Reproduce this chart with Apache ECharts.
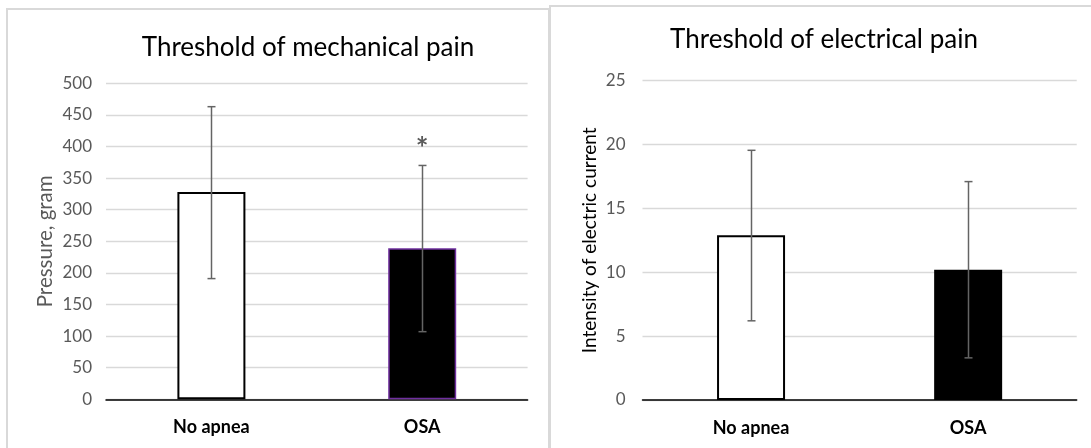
<!DOCTYPE html>
<html>
<head>
<meta charset="utf-8">
<script src="https://cdn.jsdelivr.net/npm/echarts@6/dist/echarts.min.js"></script>
<style>
html,body{margin:0;padding:0;background:#fff;}
#chart{width:1091px;height:448px;}
</style>
</head>
<body>
<div id="chart"></div>
<script>
// ---- data ----
const categories = ['No apnea', 'OSA'];
// Mechanical pain threshold (pressure, gram)
const mechMeans = [328, 239];
const mechErrLow = [191, 107];
const mechErrHigh = [463, 370];
const mechSignificance = [null, 408];   // "*" marker above OSA
const mechTicks = { min: 0, max: 500, interval: 50 };
// Electrical pain threshold (intensity of electric current)
const elecMeans = [12.9, 10.2];
const elecErrLow = [6.2, 3.3];
const elecErrHigh = [19.55, 17.1];
const elecTicks = { min: 0, max: 25, interval: 5 };

const titles = ['Threshold of mechanical pain', 'Threshold of electrical pain'];
const yNames = ['Pressure, gram', 'Intensity of electric current'];

// ---- styles ----
const FONT = 'Lato';
const mechBarStyles = [
  { color: '#ffffff', borderColor: '#000000', borderWidth: 2 },
  { color: '#000000', borderColor: '#7030A0', borderWidth: 1.5 }
];
const elecBarStyles = [
  { color: '#ffffff', borderColor: '#000000', borderWidth: 2 },
  { color: '#000000', borderColor: '#000000', borderWidth: 2 }
];

function barData(values, styles) {
  return values.map((v, i) => ({ value: v, itemStyle: styles[i] }));
}
function errData(low, high) {
  return low.map((l, i) => [i, l, high[i]]);
}
function errRender(params, api) {
  const lo = api.coord([api.value(0), api.value(1)]);
  const hi = api.coord([api.value(0), api.value(2)]);
  const x = Math.round(lo[0]) + 0.5;
  const cap = 4;
  const style = { stroke: '#646464', lineWidth: 1.5 };
  return {
    type: 'group',
    children: [
      { type: 'line', shape: { x1: x, y1: lo[1], x2: x, y2: hi[1] }, style },
      { type: 'line', shape: { x1: x - cap, y1: lo[1], x2: x + cap, y2: lo[1] }, style },
      { type: 'line', shape: { x1: x - cap, y1: hi[1], x2: x + cap, y2: hi[1] }, style }
    ]
  };
}
function starRender(params, api) {
  const p = api.coord([api.value(0), api.value(1)]);
  return {
    type: 'text',
    x: p[0], y: p[1] + 8,
    style: { text: '*', fill: '#595959', font: 'bold 30px ' + FONT, align: 'center', verticalAlign: 'middle' }
  };
}

function yAxis(gridIndex, ticks, name, nameColor, nameSize, nameGap, labelMargin) {
  return {
    type: 'value', gridIndex, min: ticks.min, max: ticks.max, interval: ticks.interval,
    name, nameLocation: 'middle', nameGap, nameRotate: 90,
    nameTextStyle: { color: nameColor, fontSize: nameSize, fontFamily: FONT },
    axisLine: { show: false }, axisTick: { show: false },
    axisLabel: { color: '#595959', fontSize: 17, fontFamily: FONT, margin: labelMargin },
    splitLine: { lineStyle: { color: '#d9d9d9', width: 1.3 } }
  };
}
function xAxis(gridIndex) {
  return {
    type: 'category', gridIndex, data: categories,
    axisLine: { lineStyle: { color: '#000000', width: 1.5 } },
    axisTick: { show: false },
    axisLabel: { color: '#000000', fontSize: 18, fontWeight: 'bold', fontFamily: FONT, margin: 19 }
  };
}

const chart = echarts.init(document.getElementById('chart'), null, { renderer: 'canvas' });
chart.setOption({
  animation: false,
  backgroundColor: '#ffffff',
  graphic: [
    { type: 'rect', shape: { x: 7, y: 9, width: 542, height: 520 }, style: { fill: 'none', stroke: '#d9d9d9', lineWidth: 2 }, z: -10 },
    { type: 'rect', shape: { x: 550, y: 6, width: 600, height: 520 }, style: { fill: 'none', stroke: '#d9d9d9', lineWidth: 2 }, z: -10 }
  ],
  title: [
    { text: titles[0], left: 303, top: 30, textAlign: 'center',
      textStyle: { fontSize: 26, fontWeight: 'normal', color: '#000', fontFamily: FONT } },
    { text: titles[1], left: 819, top: 22, textAlign: 'center',
      textStyle: { fontSize: 26, fontWeight: 'normal', color: '#000', fontFamily: FONT } }
  ],
  grid: [
    { left: 106, right: 1091 - 527.6, top: 83.3, bottom: 448 - 399.3 },
    { left: 642.5, right: 1091 - 1076.7, top: 80.7, bottom: 448 - 400 }
  ],
  xAxis: [xAxis(0), xAxis(1)],
  yAxis: [
    yAxis(0, mechTicks, yNames[0], '#595959', 20.5, 50, 14),
    yAxis(1, elecTicks, yNames[1], '#000000', 19, 43, 17)
  ],
  series: [
    { type: 'bar', xAxisIndex: 0, yAxisIndex: 0, barWidth: 68, data: barData(mechMeans, mechBarStyles) },
    { type: 'custom', xAxisIndex: 0, yAxisIndex: 0, renderItem: errRender, data: errData(mechErrLow, mechErrHigh), z: 5 },
    { type: 'custom', xAxisIndex: 0, yAxisIndex: 0, renderItem: starRender,
      data: mechSignificance.map((v, i) => v == null ? null : [i, v]).filter(d => d), z: 5 },
    { type: 'bar', xAxisIndex: 1, yAxisIndex: 1, barWidth: 68, data: barData(elecMeans, elecBarStyles) },
    { type: 'custom', xAxisIndex: 1, yAxisIndex: 1, renderItem: errRender, data: errData(elecErrLow, elecErrHigh), z: 5 }
  ]
});
</script>
</body>
</html>
